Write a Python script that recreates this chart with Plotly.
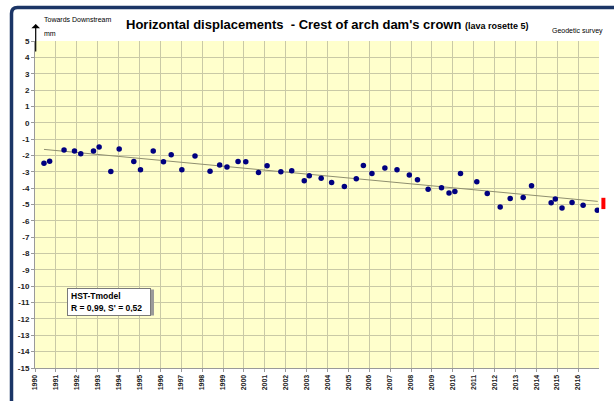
import plotly.graph_objects as go

# ---- data ----
survey_year = [1990.43, 1990.70, 1991.39, 1991.89, 1992.19, 1992.80, 1993.07, 1993.63, 1994.03,
               1994.73, 1995.05, 1995.66, 1996.15, 1996.52, 1997.03, 1997.66, 1998.38, 1998.84,
               1999.19, 1999.72, 2000.09, 2000.70, 2001.11, 2001.77, 2002.29, 2002.89, 2003.13,
               2003.70, 2004.20, 2004.81, 2005.38, 2005.72, 2006.13, 2006.75, 2007.33, 2007.92,
               2008.31, 2008.82, 2009.46, 2009.82, 2010.10, 2010.37, 2011.15, 2011.65, 2012.27,
               2012.75, 2013.37, 2013.77, 2014.71, 2014.91, 2015.23, 2015.71, 2016.24, 2016.92]
displacement_mm = [-2.47, -2.35, -1.67, -1.73, -1.90, -1.73, -1.49, -2.98, -1.61,
                   -2.37, -2.87, -1.73, -2.39, -1.96, -2.87, -2.04, -2.96, -2.59,
                   -2.71, -2.37, -2.39, -3.04, -2.63, -3.00, -2.94, -3.55, -3.24,
                   -3.39, -3.65, -3.90, -3.43, -2.61, -3.10, -2.77, -2.88, -3.20,
                   -3.49, -4.06, -3.98, -4.30, -4.20, -3.10, -3.61, -4.33, -5.16,
                   -4.63, -4.57, -3.86, -4.90, -4.67, -5.22, -4.88, -5.04, -5.35]
trend_year = [1990.43, 2016.94]
trend_mm = [-1.63, -4.81]
limit_year = [2017.21, 2017.21]
limit_mm = [-4.59, -5.28]
x_ticks = list(range(1990, 2017))
y_ticks = list(range(-15, 6))
x_range = [1990, 2017]
y_range = [-15, 5]

W, H = 614, 401
ML, MR, MT, MB = 35, 5, 41, 33
PW, PH = W - ML - MR, H - MT - MB
PLOT_RIGHT = 599          # right edge of the yellow plot area, in pixels
d = (PLOT_RIGHT - ML) / PW
px_per_year = (PLOT_RIGHT - ML) / (x_range[1] - x_range[0])
x2_range = [x_range[1], x_range[1] + (W - MR - PLOT_RIGHT) / px_per_year]


def px(x):
    return (x - ML) / PW


def py(y):
    return (H - MB - y) / PH


fig = go.Figure()
fig.add_trace(go.Scatter(x=trend_year, y=trend_mm, mode="lines",
                         line=dict(color="#8f8f6f", width=1), hoverinfo="skip"))
fig.add_trace(go.Scatter(x=survey_year, y=displacement_mm, mode="markers",
                         marker=dict(color="#000080", size=5.5)))
fig.add_trace(go.Scatter(x=limit_year, y=limit_mm, mode="lines", xaxis="x2", yaxis="y2",
                         line=dict(color="#ff0000", width=4)))

axis_font = dict(family="Liberation Sans, Arial", size=8, color="#222222")
fig.update_layout(
    xaxis=dict(domain=[0, d], range=x_range, tickvals=x_ticks,
               ticktext=[f"<b>{t}</b>" for t in x_ticks], tickangle=-90,
               tickfont=dict(family="Liberation Sans, Arial", size=7, color="#222222"),
               showgrid=True, gridcolor="#c9c9a6", gridwidth=1,
               showline=True, linecolor="#9a9a9a", linewidth=1,
               ticks="outside", ticklen=3, tickcolor="#9a9a9a", zeroline=False),
    yaxis=dict(range=y_range, tickvals=y_ticks,
               ticktext=[f"<b>{t}</b>" for t in y_ticks], tickfont=axis_font,
               showgrid=True, gridcolor="#c9c9a6", gridwidth=1,
               showline=True, linecolor="#9a9a9a", linewidth=1,
               ticks="outside", ticklen=3, tickcolor="#9a9a9a", zeroline=False),
    xaxis2=dict(domain=[d, 1], range=x2_range, visible=False, anchor="y2"),
    yaxis2=dict(domain=[0, 1], range=y_range, visible=False, anchor="x2"),
)

# dark blue frame (top + left with rounded corner)
r = 6
frame_path = (f"M {px(11.5)} {py(H + 10)} L {px(11.5)} {py(7.5 + r)} "
              f"Q {px(11.5)} {py(7.5)} {px(11.5 + r)} {py(7.5)} L {px(W + 10)} {py(7.5)}")
shapes = [dict(type="rect", xref="x domain", yref="y domain", x0=0, x1=1, y0=0, y1=1,
               fillcolor="#ffffcc", line=dict(width=0), layer="below"),
          dict(type="path", xref="paper", yref="paper", path=frame_path,
               line=dict(color="#1b3566", width=3.5)),
          # box shadow
          dict(type="rect", xref="paper", yref="paper", x0=px(69), x1=px(154),
               y0=py(315.5), y1=py(289.5), fillcolor="#9a9a9a", line=dict(width=0), layer="above")]

annotations = [
    dict(xref="paper", yref="paper", x=px(124), y=py(25), xanchor="left", yanchor="middle",
         showarrow=False,
         text="<b>Horizontal displacements  - Crest of arch dam's crown</b> "
              "<b><span style='font-size:9px'>(lava rosette 5)</span></b>",
         font=dict(family="Liberation Sans, Arial", size=13, color="#000000")),
    dict(xref="paper", yref="paper", x=px(42), y=py(20), xanchor="left", yanchor="middle",
         showarrow=False, text="Towards Downstream",
         font=dict(family="Liberation Sans, Arial", size=7, color="#000000")),
    dict(xref="paper", yref="paper", x=px(42), y=py(34), xanchor="left", yanchor="middle",
         showarrow=False, text="mm",
         font=dict(family="Liberation Sans, Arial", size=7, color="#000000")),
    dict(xref="paper", yref="paper", x=px(550), y=py(31), xanchor="left", yanchor="middle",
         showarrow=False, text="Geodetic survey",
         font=dict(family="Liberation Sans, Arial", size=7, color="#000000")),
    dict(xref="paper", yref="paper", x=px(35.7), y=py(24), ax=0, ay=29, text="",
         showarrow=True, arrowhead=1, arrowsize=1.2, arrowwidth=1.2, arrowcolor="#000000"),
    dict(xref="paper", yref="paper", x=px(67), y=py(287.5), xanchor="left", yanchor="top",
         showarrow=False, align="left", bgcolor="#ffffff", bordercolor="#7a7a7a",
         borderwidth=1, borderpad=3, width=76, height=20,
         text="<b>HST-Tmodel<br>R = 0,99, S' = 0,52</b>",
         font=dict(family="Liberation Sans, Arial", size=8.5, color="#000000")),
]

fig.update_layout(width=W, height=H, margin=dict(l=ML, r=MR, t=MT, b=MB),
                  paper_bgcolor="#ffffff", plot_bgcolor="#ffffff", showlegend=False,
                  shapes=shapes, annotations=annotations)

fig.write_html("out.html", config={"displayModeBar": False},
               post_script="document.body.style.margin='0px';")
